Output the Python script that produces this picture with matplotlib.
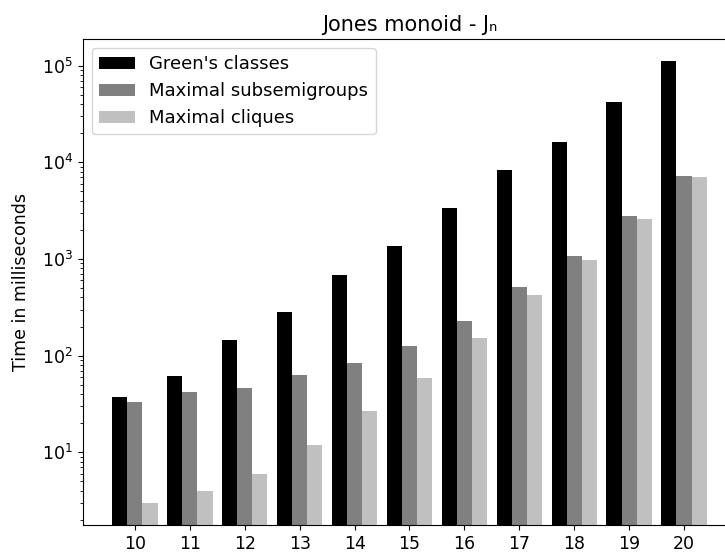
import numpy as np
import matplotlib

matplotlib.use("Agg")
import matplotlib.pyplot as plt

# Jones monoid sizes and timings (ms)
degrees = [10, 11, 12, 13, 14, 15, 16, 17, 18, 19, 20]
greens_classes = [37, 62, 144, 280, 675, 1350, 3400, 8400, 16200, 42200, 111500]
max_subsemigroups = [33, 42, 46, 63, 84, 126, 227, 509, 1064, 2750, 7280]
max_cliques = [3, 4, 6, 12, 27, 59, 152, 421, 968, 2560, 7110]

series = [
    ("Green's classes", greens_classes, "black"),
    ("Maximal subsemigroups", max_subsemigroups, "gray"),
    ("Maximal cliques", max_cliques, "silver"),
]

plt.rcParams["font.size"] = 12.5

fig = plt.figure(figsize=(7.25, 5.56), dpi=100)
# axes run slightly past the right edge, as in the cropped original
ax = fig.add_axes([0.1139, 0.0558, 0.9018, 0.8742])

x = np.array(degrees)
width = 0.275
for i, (label, values, color) in enumerate(series):
    ax.bar(x + (i - 1) * width, values, width, color=color, label=label)

ax.set_yscale("log")
ax.set_xticks(degrees)
ax.tick_params(labelsize=12.5)
ax.set_ylabel("Time in milliseconds", fontsize=12.5, labelpad=8)
ax.set_title("Jones monoid - J\u2099", fontsize=15)
ax.legend(loc="upper left", fontsize=13)

fig.savefig("out.png", dpi=100)
plt.close(fig)
